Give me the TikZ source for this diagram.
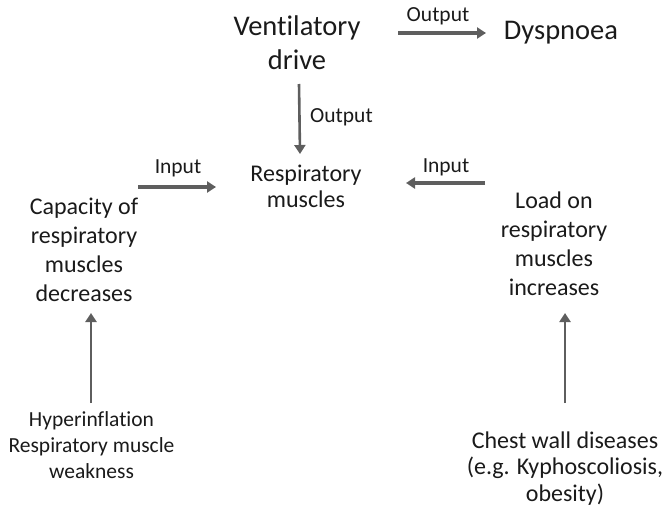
\documentclass[tikz,border=0pt]{standalone}
\usepackage{fontspec}
\setmainfont[Ligatures=NoCommon]{Carlito}
\usetikzlibrary{arrows.meta}
\definecolor{txt}{HTML}{1A1A1A}
\definecolor{arr}{HTML}{5E5E5E}
\tikzset{
  x=1pt, y=-1pt,
  big/.style={inner sep=0pt, text=txt, align=center, font=\fontsize{28.5}{34}\selectfont, anchor=base},
  mid/.style={inner sep=0pt, text=txt, align=center, font=\fontsize{24}{28.5}\selectfont, anchor=base},
  small/.style={inner sep=0pt, text=txt, align=center, font=\fontsize{21.5}{26}\selectfont, anchor=base},
  conn/.style={draw=arr, line width=3.2pt, -{Triangle[length=9pt,width=11pt]}, color=arr},
}
\begin{document}
\begin{tikzpicture}
\useasboundingbox (0,0) rectangle (668,511);
% multi-line nodes: anchor at the baseline of the last line
\node[big] (vd) at (297,70) {Ventilatory\\drive};
\node[big] (dy) at (561,40) {Dyspnoea};
\node[mid, font=\fontsize{24}{26}\selectfont] (rm) at (306,207) {Respiratory\\muscles};
\node[mid, font=\fontsize{24}{29}\selectfont] (cap) at (84,301) {Capacity of\\respiratory\\muscles\\decreases};
\node[mid, font=\fontsize{24}{29}\selectfont] (load) at (554,295) {Load on\\respiratory\\muscles\\increases};
\node[small] (hyp) at (91.5,478) {Hyperinflation\\Respiratory muscle\\weakness};
\node[mid, font=\fontsize{24}{26.5}\selectfont] (chest) at (565,501) {Chest wall diseases\\(e.g. Kyphoscoliosis,\\obesity)};
\node[small] (lo1) at (438,22) {Output};
\node[small, anchor=base west] (lo2) at (310,122) {Output};
\node[small] (li1) at (178,173) {Input};
\node[small] (li2) at (446,172) {Input};
\coordinate (a1s) at (398,33);
\coordinate (a1e) at (486,33);
\coordinate (a2s) at (299,84);
\coordinate (a2e) at (300,154);
\coordinate (a3s) at (138,187);
\coordinate (a3e) at (216,187);
\coordinate (a4s) at (485,183);
\coordinate (a4e) at (406,183);
\coordinate (a5s) at (91,403);
\coordinate (a5e) at (91,313);
\coordinate (a6s) at (565,403);
\coordinate (a6e) at (565,313);
\draw[conn] (a1s) -- (a1e);
\draw[conn, line width=2.6pt] (a2s) -- (a2e);
\draw[conn] (a3s) -- (a3e);
\draw[conn] (a4s) -- (a4e);
\draw[conn, line width=2.6pt] (a5s) -- (a5e);
\draw[conn, line width=2.6pt] (a6s) -- (a6e);
\end{tikzpicture}
\end{document}
